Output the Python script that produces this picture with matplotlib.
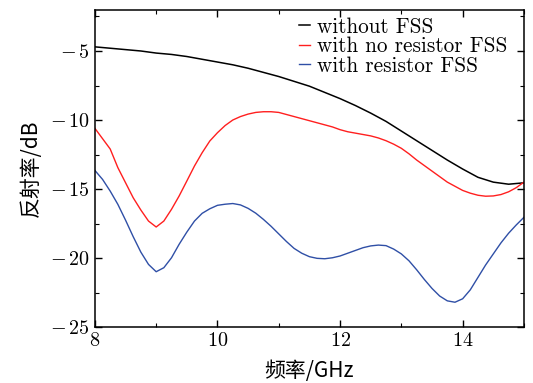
import numpy as np
import matplotlib
matplotlib.use("Agg")
import matplotlib.pyplot as plt
from matplotlib.ticker import MultipleLocator, FuncFormatter

# Data
freq_black = [8.0, 8.25, 8.5, 8.75, 9.0, 9.25, 9.5, 9.75, 10.0, 10.25, 10.5, 10.75,
              11.0, 11.25, 11.5, 11.75, 12.0, 12.25, 12.5, 12.75, 13.0, 13.25,
              13.5, 13.75, 14.0, 14.25, 14.5, 14.75, 15.0]
without_fss = [-4.7, -4.8, -4.9, -5.0, -5.15, -5.25, -5.4, -5.6, -5.8, -6.0, -6.25, -6.55,
               -6.85, -7.2, -7.55, -8.0, -8.45, -8.95, -9.5, -10.1, -10.8, -11.5,
               -12.2, -12.9, -13.55, -14.15, -14.5, -14.65, -14.55]

# red and blue curves share a 0.125 GHz grid
freq = [8.0, 8.125, 8.25, 8.375, 8.5, 8.625, 8.75, 8.875, 9.0, 9.125, 9.25, 9.375,
        9.5, 9.625, 9.75, 9.875, 10.0, 10.125, 10.25, 10.375, 10.5, 10.625, 10.75,
        10.875, 11.0, 11.125, 11.25, 11.375, 11.5, 11.625, 11.75, 11.875, 12.0,
        12.125, 12.25, 12.375, 12.5, 12.625, 12.75, 12.875, 13.0, 13.125, 13.25,
        13.375, 13.5, 13.625, 13.75, 13.875, 14.0, 14.125, 14.25, 14.375, 14.5,
        14.625, 14.75, 14.875, 15.0]
no_resistor = [-10.6, -11.35, -12.1, -13.45, -14.54, -15.63, -16.52, -17.32, -17.75,
               -17.32, -16.47, -15.5, -14.42, -13.33, -12.37, -11.52, -10.92, -10.4,
               -10.0, -9.75, -9.57, -9.45, -9.4, -9.4, -9.45, -9.6, -9.75, -9.9, -10.05,
               -10.2, -10.35, -10.5, -10.7, -10.85, -10.95, -11.05, -11.15, -11.3, -11.5,
               -11.75, -12.05, -12.45, -12.9, -13.3, -13.7, -14.1, -14.5, -14.8, -15.1,
               -15.3, -15.45, -15.52, -15.5, -15.4, -15.2, -14.9, -14.5]
with_resistor = [-13.65, -14.3, -15.15, -16.11, -17.25, -18.45, -19.57, -20.46, -20.99,
                 -20.7, -19.98, -19.0, -18.12, -17.32, -16.76, -16.43, -16.18, -16.1,
                 -16.05, -16.15, -16.4, -16.75, -17.2, -17.7, -18.25, -18.8, -19.3,
                 -19.65, -19.9, -20.02, -20.05, -19.98, -19.85, -19.65, -19.45, -19.25,
                 -19.12, -19.06, -19.1, -19.35, -19.7, -20.2, -20.85, -21.55, -22.2,
                 -22.75, -23.1, -23.2, -22.95, -22.3, -21.4, -20.5, -19.7, -18.9, -18.2,
                 -17.6, -17.05]

plt.rcParams['font.family'] = ['cmr10', 'DejaVu Serif']
plt.rcParams['mathtext.fontset'] = 'cm'
plt.rcParams['axes.formatter.use_mathtext'] = True

fig = plt.figure(figsize=(5.33, 3.83), dpi=100)
ax = fig.add_axes([0.178, 0.146, 0.805, 0.829])

ax.plot(freq_black, without_fss, color='black', lw=1.1, label='without FSS')
ax.plot(freq, no_resistor, color='#ff1f1f', lw=1.0, label='with no resistor FSS')
ax.plot(freq, with_resistor, color='#2f4fa6', lw=1.0, label='with resistor FSS')

ax.set_xlim(8, 15)
ax.set_ylim(-25, -2)
ax.xaxis.set_major_locator(MultipleLocator(2))
ax.xaxis.set_minor_locator(MultipleLocator(1))
ax.yaxis.set_major_locator(MultipleLocator(5))
ax.yaxis.set_minor_locator(MultipleLocator(2.5))
ax.xaxis.set_major_formatter(FuncFormatter(lambda v, p: r'$%d$' % v))
ax.yaxis.set_major_formatter(FuncFormatter(
    lambda v, p: r'$-\,%d$' % abs(v) if v < 0 else r'$%d$' % v))
ax.tick_params(which='both', direction='in', top=True, right=True, labelsize=14.5)
ax.tick_params(which='major', length=5, width=1)
ax.tick_params(which='minor', length=3, width=0.8)
for s in ax.spines.values():
    s.set_linewidth(1.1)

ax.set_xlabel('频率/GHz', family=['Noto Sans CJK SC', 'DejaVu Sans'], fontsize=15, labelpad=7)
ax.set_ylabel('反射率/dB', family=['Noto Sans CJK SC', 'DejaVu Sans'], fontsize=15, labelpad=6)

ax.legend(loc='upper right', bbox_to_anchor=(0.993, 1.02), frameon=False,
          fontsize=15.3, handlelength=0.55, handletextpad=0.3, labelspacing=0.0,
          borderaxespad=0.25)

fig.savefig('out.png', dpi=100)
